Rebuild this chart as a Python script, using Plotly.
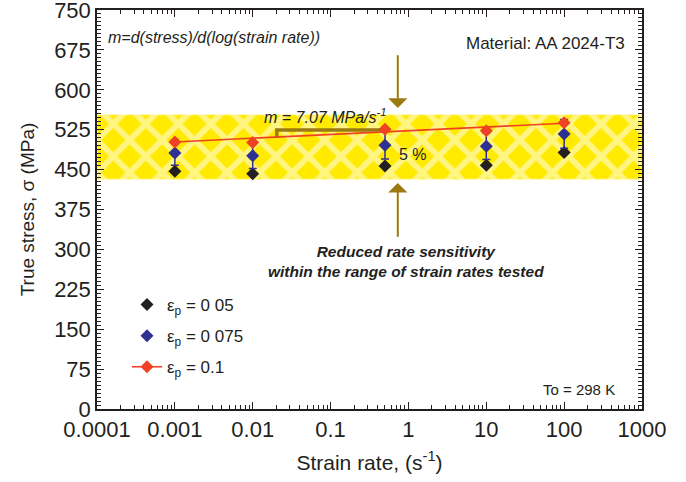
import math
import plotly.graph_objects as go

# ---------------- data ----------------
strain_rate = [0.001, 0.01, 0.5, 10, 100]
stress_ep005 = [447, 442, 457, 458, 482]
stress_ep0075 = [481, 476, 496, 494, 517]
err_ep0075 = [23, 24, 26, 25, 27]
stress_ep01 = [502, 501, 526, 523, 538]
fit_rate = [0.001, 100]
fit_stress = [502, 537]
band_rate = [0.0001, 1000, 1000, 0.0001, 0.0001]
band_stress = [432, 432, 553, 553, 432]
slope_rate = [0.0204, 0.0204, 0.47]
slope_stress = [510, 524.5, 524.5]
arrow_rate = 0.73
arrow_top = [566, 666]
arrow_bottom = [425, 323]
x_ticks = [0.0001, 0.001, 0.01, 0.1, 1, 10, 100, 1000]
x_ticktext = ["0.0001", "0.001", "0.01", "0.1", "1", "10", "100", "1000"]

W, H = 686, 482
L, R, T, B = 97, 642, 10, 409
FONT = "Arial, Liberation Sans, sans-serif"
BROWN = "#9C7A12"
BLACK = "#231F20"
BLUE = "#2E3192"
RED = "#EF4123"
YELLOW = "#FFEA00"


def fx(px):
    return (px - L) / (R - L)


def fy(py):
    return (B - py) / (B - T)


fig = go.Figure()

# hatched yellow band
fig.add_trace(go.Scatter(
    x=band_rate, y=band_stress, mode="lines", fill="toself",
    line=dict(width=0.8, color="#FFF6A0"),
    fillcolor=YELLOW,
    fillpattern=dict(shape="x", fgcolor="white", bgcolor=YELLOW, size=23, solidity=0.45),
    showlegend=False, hoverinfo="skip",
))

# slope indicator bracket
fig.add_trace(go.Scatter(
    x=slope_rate, y=slope_stress, mode="lines",
    line=dict(color=BROWN, width=3.5), showlegend=False, hoverinfo="skip",
))

# fitted line for ep = 0.1
fig.add_trace(go.Scatter(
    x=fit_rate, y=fit_stress, mode="lines",
    line=dict(color=RED, width=1.6), showlegend=False, hoverinfo="skip",
))

fig.add_trace(go.Scatter(
    x=strain_rate, y=stress_ep005, mode="markers", name="ε<sub>p</sub> = 0 05",
    marker=dict(symbol="diamond", size=10, color=BLACK), legendgroup="a",
))
fig.add_trace(go.Scatter(
    x=strain_rate, y=stress_ep0075, mode="markers", name="ε<sub>p</sub> = 0 075",
    marker=dict(symbol="diamond", size=10, color=BLUE),
    error_y=dict(type="data", array=err_ep0075, color=BLUE, thickness=1.5, width=4),
    legendgroup="b",
))
fig.add_trace(go.Scatter(
    x=strain_rate, y=stress_ep01, mode="markers", showlegend=False,
    marker=dict(symbol="diamond", size=10, color=RED), legendgroup="c",
))
fig.add_trace(go.Scatter(
    x=[None], y=[None], mode="lines+markers", name="ε<sub>p</sub> = 0.1",
    line=dict(color=RED, width=1.6),
    marker=dict(symbol="diamond", size=10, color=RED), legendgroup="c",
))

ann = []
ann.append(dict(xref="paper", yref="paper", x=fx(106), y=fy(37), xanchor="left", yanchor="middle",
                text="<i>m=d(stress)/d(log(strain rate))</i>", showarrow=False,
                font=dict(size=16, color=BLACK)))
ann.append(dict(xref="paper", yref="paper", x=fx(627), y=fy(43), xanchor="right", yanchor="middle",
                text="Material: AA 2024-T3", showarrow=False, font=dict(size=17, color=BLACK)))
ann.append(dict(xref="paper", yref="paper", x=fx(325), y=fy(116), xanchor="center", yanchor="middle",
                text="<i>m = 7.07 MPa/s<sup>-1</sup></i>", showarrow=False, font=dict(size=16, color=BLACK)))
ann.append(dict(xref="paper", yref="paper", x=fx(397), y=fy(154), xanchor="left", yanchor="middle",
                text="5 %", showarrow=False, font=dict(size=16, color=BLACK)))
ann.append(dict(xref="paper", yref="paper", x=fx(406), y=fy(261), xanchor="center", yanchor="middle",
                text="<b><i>Reduced rate sensitivity<br>within the range of strain rates tested</i></b>",
                showarrow=False, font=dict(size=15.5, color=BLACK)))
ann.append(dict(xref="paper", yref="paper", x=fx(579), y=fy(389), xanchor="center", yanchor="middle",
                text="To = 298 K", showarrow=False, font=dict(size=15, color=BLACK)))
for tip, tail in (arrow_top, arrow_bottom):
    ann.append(dict(xref="x", yref="y", axref="x", ayref="y",
                    x=math.log10(arrow_rate), y=tip, ax=math.log10(arrow_rate), ay=tail,
                    text="", font=dict(size=1), borderpad=0,
                    showarrow=True, arrowhead=1, arrowsize=1.6, arrowwidth=2,
                    arrowcolor=BROWN))

axis_common = dict(
    showline=True, mirror="allticks", linecolor=BLACK, linewidth=1.5,
    ticks="inside", ticklen=7, tickwidth=1.2, tickcolor=BLACK,
    showgrid=False, zeroline=False, automargin=False, ticklabeloverflow="allow",
    tickfont=dict(size=22, color=BLACK, family=FONT),
)

fig.update_layout(
    width=W, height=H,
    margin=dict(l=L, r=W - R, t=T, b=H - B),
    paper_bgcolor="white", plot_bgcolor="white",
    font=dict(family=FONT, color=BLACK),
    xaxis=dict(
        type="log", range=[-4, 3], tickvals=x_ticks, ticktext=x_ticktext,
        minor=dict(ticks="inside", ticklen=4, tickcolor=BLACK, dtick="D1", showgrid=False),
        title=dict(text="Strain rate, (s<sup>-1</sup>)", font=dict(size=21, color=BLACK), standoff=14),
        **axis_common,
    ),
    yaxis=dict(
        range=[0, 750], dtick=75, tick0=0,
        minor=dict(ticks="inside", ticklen=4, tickcolor=BLACK, dtick=7.5, showgrid=False),
        title=dict(text="True stress, σ (MPa)", font=dict(size=19, color=BLACK), standoff=14),
        **axis_common,
    ),
    legend=dict(
        x=fx(127), y=fy(287), xanchor="left", yanchor="top",
        bgcolor="rgba(0,0,0,0)", font=dict(size=17, color=BLACK), tracegroupgap=6,
    ),
    annotations=ann,
    showlegend=True,
)

fig.write_html("out.html")
